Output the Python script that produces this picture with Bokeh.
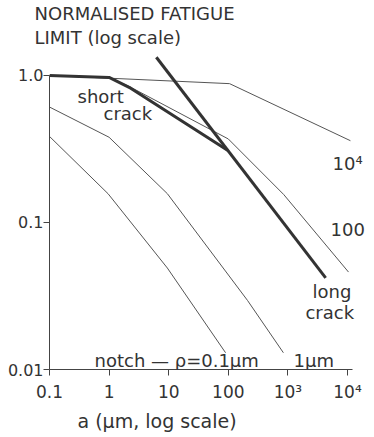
from bokeh.plotting import figure
from bokeh.models import Range1d, FixedTicker, Label, Title
from bokeh.embed import file_html
from bokeh.resources import INLINE

# ---- data (a in micrometres, normalised fatigue limit) ----
short_a = [0.1, 1.0, 2.3, 97]
short_s = [1.0, 0.97, 0.82, 0.31]
long_a = [6.2, 4300]
long_s = [1.33, 0.042]
r1e4_a = [0.1, 105, 11200]
r1e4_s = [1.0, 0.88, 0.36]
r100_a = [0.1, 1.0, 2.2, 100, 850, 10400]
r100_s = [1.0, 0.97, 0.84, 0.37, 0.155, 0.046]
r1_a = [0.1, 1.0, 9.5, 210, 840]
r1_s = [0.61, 0.38, 0.157, 0.0295, 0.013]
r01_a = [0.1, 0.96, 9.5, 90]
r01_s = [0.385, 0.157, 0.049, 0.013]

x_ticks = [0.1, 1.0, 10.0, 100.0, 1000.0, 10000.0]
x_tick_labels = ["0.1", "1", "10", "100", "10³", "10⁴"]
y_ticks = [0.01, 0.1, 1.0]
y_tick_labels = ["0.01", "0.1", "1.0"]

y_title = ["NORMALISED FATIGUE", "LIMIT (log scale)"]
x_title = "a (μm, log scale)"

# text annotations inside the plot: (text, a, S)
notes = [
    ("short", 0.295, 0.716),
    ("crack", 0.805, 0.548),
    ("10⁴", 5600, 0.251),
    ("100", 5190, 0.089),
    ("long", 2590, 0.0337),
    ("crack", 1970, 0.0246),
    ("notch — ρ=0.1μm", 0.569, 0.0115),
    ("1μm", 1242, 0.0115),
]

FONT = "DejaVu Sans"
INK = "#333333"
THIN = "#555555"

p = figure(width=374, height=437, x_axis_type="log", y_axis_type="log",
           x_range=Range1d(0.1, 28380), y_range=Range1d(0.01, 1.479),
           output_backend="svg", toolbar_location=None,
           min_border_left=49, min_border_right=0,
           min_border_top=50, min_border_bottom=68)
p.grid.visible = False
p.outline_line_color = None
p.background_fill_color = "white"
p.border_fill_color = "white"

for xs, ys in [(r1e4_a, r1e4_s), (r100_a, r100_s), (r1_a, r1_s), (r01_a, r01_s)]:
    p.line(xs, ys, line_color=THIN, line_width=1)
p.line(short_a, short_s, line_color=INK, line_width=3)
p.line(long_a, long_s, line_color=INK, line_width=3)

for ax in (p.xaxis[0], p.yaxis[0]):
    ax.axis_line_color = "#444444"
    ax.major_tick_line_color = "#444444"
    ax.major_tick_in = 0
    ax.major_tick_out = 6
    ax.minor_tick_line_color = None
    ax.major_label_text_font = FONT
    ax.major_label_text_color = INK

p.xaxis.ticker = FixedTicker(ticks=x_ticks)
p.xaxis.major_label_overrides = {float(k): v for k, v in zip(x_ticks, x_tick_labels)}
p.xaxis.major_label_text_font_size = "17px"
p.xaxis.major_label_standoff = 6
p.xaxis.bounds = (0.1, 12130)

p.yaxis.ticker = FixedTicker(ticks=y_ticks)
p.yaxis.major_label_overrides = {float(k): v for k, v in zip(y_ticks, y_tick_labels)}
p.yaxis.major_label_text_font_size = "16px"
p.yaxis.major_label_standoff = 0
p.yaxis.bounds = (0.01, 1.0)

# titles (first added 'above' sits nearest the frame)
for line, so in zip(reversed(y_title), (5, -3)):
    p.add_layout(Title(text=line, align="left", offset=-15, standoff=so,
                       text_font=FONT, text_font_size="18px", text_font_style="normal",
                       text_color=INK), "above")
p.add_layout(Title(text=x_title, align="left", offset=28, standoff=7,
                   text_font=FONT, text_font_size="19px", text_font_style="normal",
                   text_color=INK), "below")

for txt, xa, ys in notes:
    p.add_layout(Label(x=xa, y=ys, text=txt, text_font=FONT, text_font_size="18px",
                       text_color=INK, text_baseline="alphabetic", text_align="left"))

open("out.html", "w").write(file_html(p, INLINE))
